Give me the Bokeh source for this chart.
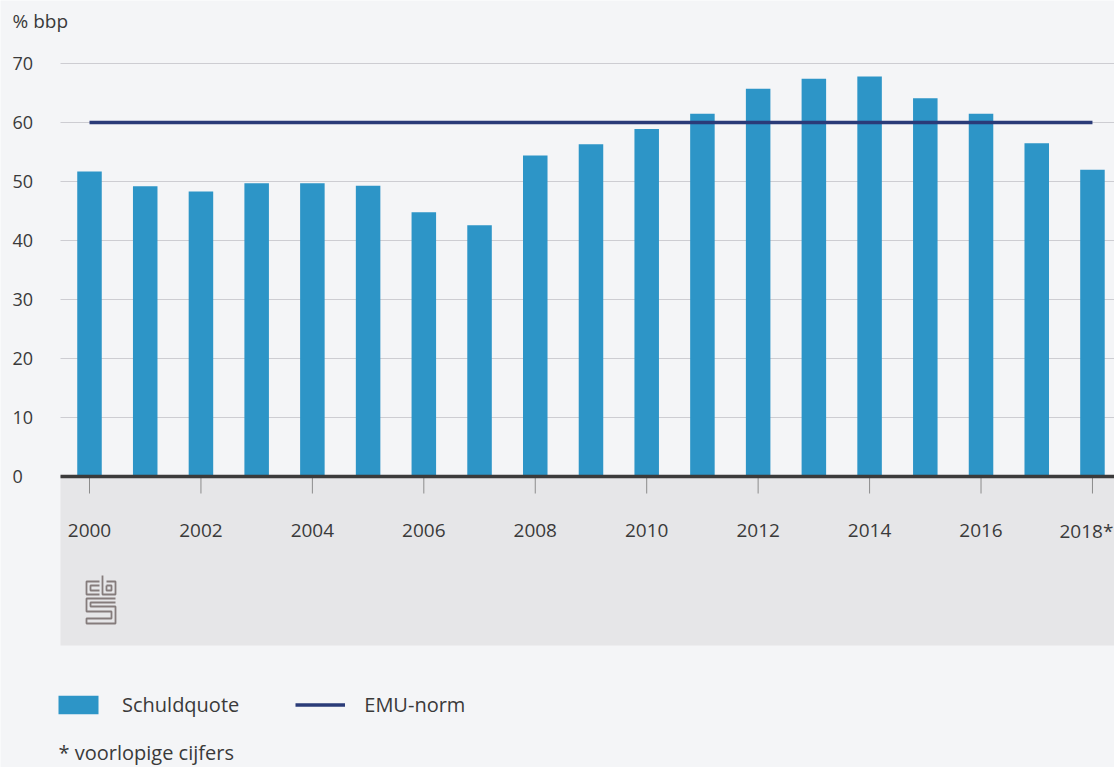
from bokeh.plotting import figure
from bokeh.models import (Range1d, BoxAnnotation, LabelSet, Label,
                          ColumnDataSource)
from bokeh.core.properties import value
from bokeh.embed import file_html
from bokeh.resources import INLINE

# ---------------- data ----------------
years = list(range(2000, 2019))
schuldquote = [51.7, 49.2, 48.3, 49.7, 49.7, 49.3, 44.8, 42.6, 54.4, 56.3,
               58.9, 61.5, 65.7, 67.4, 67.8, 64.1, 61.5, 56.5, 52.0]
emu_norm = [60] * len(years)
y_ticks = [0, 10, 20, 30, 40, 50, 60, 70]
y_tick_labels = ["0", "10", "20", "30", "40", "50", "60", "70"]
x_tick_years = [2000, 2002, 2004, 2006, 2008, 2010, 2012, 2014, 2016, 2018]
x_tick_labels = ["2000", "2002", "2004", "2006", "2008", "2010", "2012",
                 "2014", "2016", "2018*"]

FONT = "Open Sans"
TXT = "#3a3a3a"
BG = "#f4f5f7"
W, H = 1114, 767

# pixel -> data helpers (layout only)
X0, SX = 89.0, 55.72   # px of first year, px per year
Y0, SY = 476.0, 5.9    # px of zero, px per unit


def dx(px):
    return years[0] + (px - X0) / SX


def dy(py):
    return (Y0 - py) / SY


PLOT_LEFT = dx(60)
PLOT_RIGHT = dx(W)

p = figure(width=W, height=H, output_backend="svg", toolbar_location=None,
           x_axis_location=None, y_axis_location=None,
           x_range=Range1d(dx(0), dx(W)), y_range=Range1d(dy(H), dy(0)),
           min_border_left=0, min_border_right=0, min_border_top=0,
           min_border_bottom=0)
p.background_fill_color = BG
p.border_fill_color = BG
p.outline_line_color = None
p.xgrid.visible = False
p.ygrid.visible = False

# horizontal grid lines
p.segment(x0=[PLOT_LEFT] * len(y_ticks), y0=y_ticks,
          x1=[PLOT_RIGHT] * len(y_ticks), y1=y_ticks,
          line_color="#cdcdd2", line_width=1)

# y tick labels
ysrc = ColumnDataSource(dict(x=[dx(12)] * len(y_ticks), y=y_ticks,
                             t=y_tick_labels))
p.add_layout(LabelSet(x="x", y="y", text="t", source=ysrc,
                      text_align="left", text_baseline="middle",
                      text_font=value(FONT), text_font_size="18px",
                      text_color=TXT))

# grey band under the axis
band = BoxAnnotation(left=PLOT_LEFT, top=0, bottom=dy(645),
                     fill_color="#e6e6e8", fill_alpha=1,
                     line_color=None, level="underlay")
p.add_layout(band)

# tick marks
p.segment(x0=x_tick_years, y0=[0] * len(x_tick_years), x1=x_tick_years,
          y1=[dy(493)] * len(x_tick_years), line_color="#8c8c8c", line_width=1)

# bars and norm line
p.vbar(x=years, top=schuldquote, width=0.44, fill_color="#2d95c7",
       line_color=None, legend_label="Schuldquote")
p.line(x=years, y=emu_norm, line_color="#2a3b78", line_width=3.5,
       legend_label="EMU-norm")

# zero line
p.segment(x0=[PLOT_LEFT], y0=[0], x1=[PLOT_RIGHT], y1=[0],
          line_color="#3b3b3b", line_width=3.5)

# x tick labels (last one nudged left so it stays inside the canvas)
label_shift = [0] * (len(x_tick_labels) - 1) + [-6]
src = ColumnDataSource(dict(x=x_tick_years, y=[0] * len(x_tick_years),
                            t=x_tick_labels, dxo=label_shift))
p.add_layout(LabelSet(x="x", y="y", text="t", source=src, y_offset=-54,
                      x_offset="dxo",
                      text_align="center", text_baseline="middle",
                      text_font=value(FONT), text_font_size="19px",
                      text_color=TXT))

# unit label and footnote
p.add_layout(Label(x=dx(12), y=dy(20), text="% bbp", text_font=FONT,
                   text_font_size="19px", text_color=TXT,
                   text_baseline="middle", text_align="left"))
p.add_layout(Label(x=dx(58), y=dy(752), text="* voorlopige cijfers",
                   text_font=FONT, text_font_size="20px", text_color=TXT,
                   text_baseline="middle", text_align="left"))

# cbs logo (decoration)
logo_paths = [
    [(99, 581), (86, 581), (86, 594), (99, 594)],
    [(99, 585), (90, 585), (90, 590), (99, 590)],
    [(102, 575), (102, 594), (115, 594), (115, 581), (106, 581)],
    [(106, 585), (111, 585), (111, 590), (106, 590), (106, 585)],
    [(115, 598), (86, 598), (86, 611), (111, 611), (111, 618), (86, 618),
     (86, 623), (115, 623), (115, 606), (90, 606), (90, 602), (115, 602)],
]
p.multi_line(xs=[[dx(a) for a, b in path] for path in logo_paths],
             ys=[[dy(b) for a, b in path] for path in logo_paths],
             line_color="#857c7c", line_width=1.8)

# legend
lg = p.legend[0]
lg.location = (53, 49)
lg.orientation = "horizontal"
lg.glyph_width = 50
lg.glyph_height = 23
lg.label_standoff = 19
lg.spacing = 56
lg.padding = 0
lg.margin = 0
lg.border_line_color = None
lg.background_fill_alpha = 0
lg.label_text_font = FONT
lg.label_text_font_size = "20px"
lg.label_text_color = TXT

open("out.html", "w").write(file_html(p, INLINE))
